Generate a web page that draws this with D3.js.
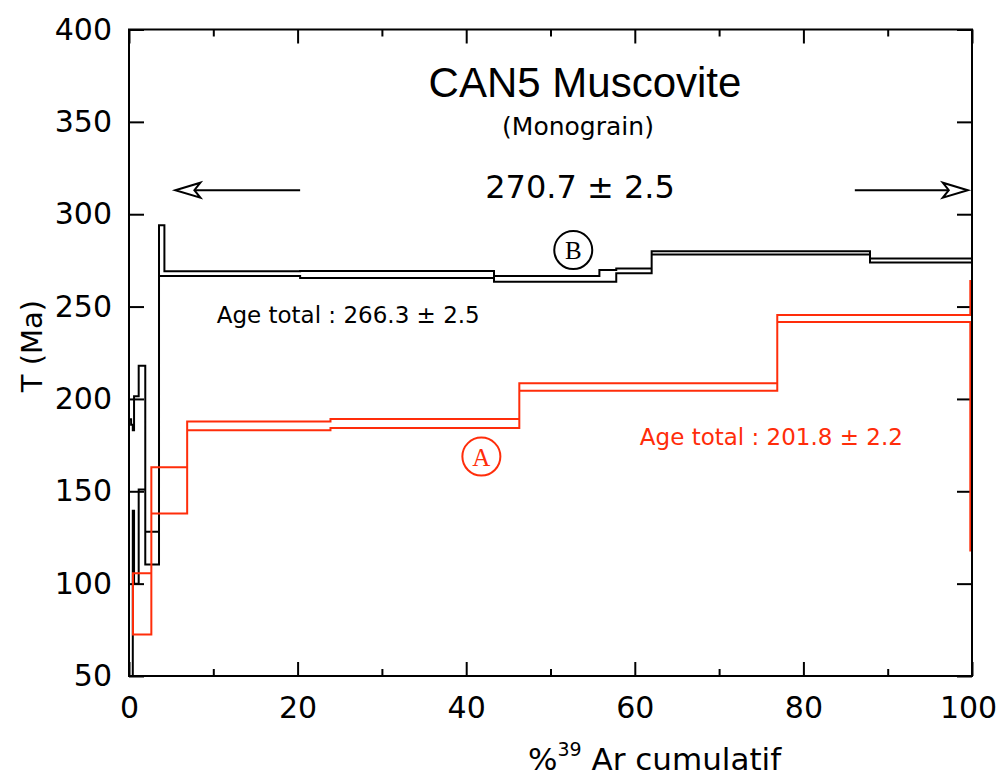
<!DOCTYPE html>
<html>
<head>
<meta charset="utf-8">
<script src="https://cdn.jsdelivr.net/npm/d3@7"></script>
<style>
  body { margin: 0; background: #fff; }
  svg { display: block; }
  text { font-family: "DejaVu Sans", sans-serif; }
</style>
</head>
<body>
<div id="container"></div>
<script>
// step boundaries (% 39Ar cumulatif) and age envelopes (Ma)
var redBounds = [0.47, 2.65, 6.9, 23.9, 46.3, 76.9, 99.8, 100];
var redLo     = [72.4, 138.0, 183.1, 184.2, 204.4, 241.7, 117.9];
var redHi     = [105.6, 163.0, 187.8, 189.1, 208.5, 245.5, 263.9];

var blackBounds = [0, 0.25, 0.45, 0.6, 1.15, 1.93, 3.56, 4.2, 20.3, 43.3, 55.8, 57.8, 62.0, 87.9, 100];
var blackLo     = [20, 20, 139.5, 100, 151, 110.3, 266.6, 266.6, 265.5, 263.4, 263.4, 268.0, 278.2, 273.8];
var blackHi     = [189, 186, 183, 201.4, 217.9, 128.1, 294, 269.1, 269.2, 266.6, 269.8, 270.6, 280.0, 276.0];

var xMajor = [0, 20, 40, 60, 80, 100];
var xMinor = [10, 30, 50, 70, 90];
var yMajor = [50, 100, 150, 200, 250, 300, 350, 400];

// plateau arrows: [tail, tip] in %, at this age
var plateauArrows = [[20.3, 5.5], [86.1, 99.5]];
var arrowAge = 313;

var RED = "#ff2d0a";

(function()
{
	var width = 998, height = 780;
	var left = 129, right = 972, top = 29.5, bottom = 676;

	var svg = d3.select("#container").append("svg")
		.attr("width", width)
		.attr("height", height);

	var x = d3.scaleLinear().domain([0, 100]).range([left, right]);
	var y = d3.scaleLinear().domain([50, 400]).range([bottom, top]);

	svg.append("clipPath").attr("id", "plot")
		.append("rect")
		.attr("x", left).attr("y", top)
		.attr("width", right - left).attr("height", bottom - top);

	// axes, ticks inside the frame
	function cleanAxis(g)
	{
		g.select(".domain").remove();
		g.selectAll(".tick line").attr("stroke", "#000").attr("stroke-width", 2);
		g.selectAll(".tick text").style("font-size", "30px").attr("fill", "#000");
	}
	svg.append("g").attr("transform", "translate(" + left + ",0)")
		.call(d3.axisLeft(y).tickValues(yMajor).tickSize(-15).tickPadding(17))
		.call(cleanAxis);
	svg.append("g").attr("transform", "translate(" + right + ",0)")
		.call(d3.axisRight(y).tickValues(yMajor).tickSize(-15).tickFormat(""))
		.call(cleanAxis);
	var xAxisG = svg.append("g").attr("transform", "translate(0," + bottom + ")")
		.call(d3.axisBottom(x).tickValues(xMajor).tickSize(-14).tickPadding(21))
		.call(cleanAxis);
	// keep the last label inside the picture
	xAxisG.selectAll(".tick text").filter(function(d) { return d === 100; }).attr("dx", -4);
	svg.append("g").attr("transform", "translate(0," + bottom + ")")
		.call(d3.axisBottom(x).tickValues(xMinor).tickSize(-7).tickFormat(""))
		.call(cleanAxis);
	svg.append("g").attr("transform", "translate(0," + top + ")")
		.call(d3.axisTop(x).tickValues(xMajor).tickSize(-14).tickFormat(""))
		.call(cleanAxis);
	svg.append("g").attr("transform", "translate(0," + top + ")")
		.call(d3.axisTop(x).tickValues(xMinor).tickSize(-7).tickFormat(""))
		.call(cleanAxis);

	// age spectra drawn as envelopes (upper and lower steps)
	function spectrum(bounds, lo, hi, color)
	{
		var pts = bounds.map(function(b, i) {
			var k = Math.min(i, lo.length - 1);
			return { x: b, lo: lo[k], hi: hi[k] };
		});
		var area = d3.area()
			.x(function(d) { return x(d.x); })
			.y0(function(d) { return y(d.lo); })
			.y1(function(d) { return y(d.hi); })
			.curve(d3.curveStepAfter);
		svg.append("path")
			.attr("d", area(pts))
			.attr("clip-path", "url(#plot)")
			.attr("fill", "none")
			.attr("stroke", color)
			.attr("stroke-width", 2)
			.attr("stroke-linejoin", "miter");
	}
	spectrum(blackBounds, blackLo, blackHi, "#000");
	spectrum(redBounds, redLo, redHi, RED);

	// frame
	svg.append("rect")
		.attr("x", left).attr("y", top)
		.attr("width", right - left).attr("height", bottom - top)
		.attr("fill", "none").attr("stroke", "#000").attr("stroke-width", 2);

	// plateau arrows
	plateauArrows.forEach(function(a)
	{
		var x0 = x(a[0]), x1 = x(a[1]), yy = y(arrowAge);
		var dir = x1 < x0 ? 1 : -1;
		svg.append("line")
			.attr("x1", x0).attr("x2", x1 + dir * 19)
			.attr("y1", yy).attr("y2", yy)
			.attr("stroke", "#000").attr("stroke-width", 2);
		svg.append("path")
			.attr("d", "M" + x1 + "," + yy + "l" + (dir * 25) + ",-7.5l" + (-dir * 6) + ",7.5l" + (dir * 6) + ",7.5z")
			.attr("fill", "#fff").attr("stroke", "#000").attr("stroke-width", 2)
			.attr("stroke-linejoin", "miter");
	});

	// titles
	svg.append("text").attr("x", 585).attr("y", 97)
		.attr("text-anchor", "middle")
		.style("font-family", "'Liberation Sans', Arial, sans-serif")
		.style("font-size", "42px")
		.text("CAN5 Muscovite");
	svg.append("text").attr("x", 578).attr("y", 135)
		.attr("text-anchor", "middle").style("font-size", "25px")
		.text("(Monograin)");
	svg.append("text").attr("x", 580).attr("y", 198)
		.attr("text-anchor", "middle").style("font-size", "32px")
		.text("270.7 \u00b1 2.5");

	// total ages
	svg.append("text").attr("x", x(10.4)).attr("y", y(241.1))
		.style("font-size", "23px").attr("fill", "#000")
		.text("Age total : 266.3 \u00b1 2.5");
	svg.append("text").attr("x", x(60.6)).attr("y", y(175))
		.style("font-size", "23px").attr("fill", RED)
		.text("Age total : 201.8 \u00b1 2.2");

	// circled labels
	var labels = [{ t: "B", px: 52.7, age: 280.6, c: "#000" }, { t: "A", px: 41.8, age: 168.8, c: RED }];
	labels.forEach(function(d)
	{
		svg.append("circle").attr("cx", x(d.px)).attr("cy", y(d.age)).attr("r", 19)
			.attr("fill", "none").attr("stroke", d.c).attr("stroke-width", 2);
		svg.append("text").attr("x", x(d.px)).attr("y", y(d.age) + 9)
			.attr("text-anchor", "middle").attr("fill", d.c)
			.style("font-family", "'Liberation Serif', 'DejaVu Serif', serif")
			.style("font-size", "25px")
			.text(d.t);
	});

	// axis titles
	var xt = svg.append("text").attr("x", 528).attr("y", 770).style("font-size", "31px");
	xt.append("tspan").text("%");
	xt.append("tspan").attr("dy", -14).style("font-size", "19px").text("39");
	xt.append("tspan").attr("dy", 14).text(" Ar cumulatif");

	svg.append("text")
		.attr("transform", "translate(42,346) rotate(-90)")
		.attr("text-anchor", "middle").style("font-size", "29px")
		.text("T (Ma)");
})();
</script>
</body>
</html>
